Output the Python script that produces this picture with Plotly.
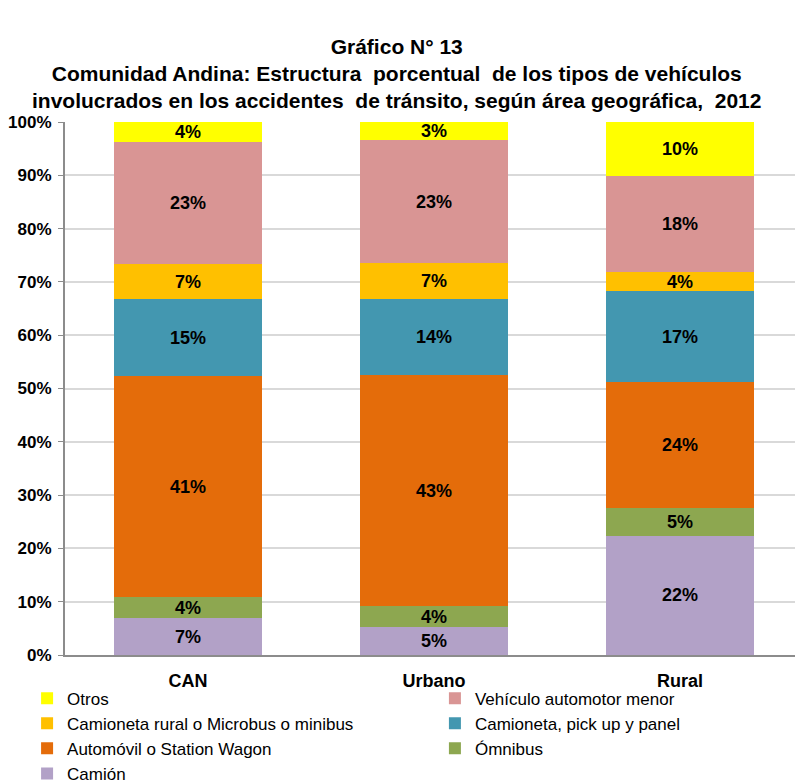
import plotly.graph_objects as go

categories = ["CAN", "Urbano", "Rural"]
series_names = [
    "Camión",
    "Ómnibus",
    "Automóvil o Station Wagon",
    "Camioneta, pick up y panel",
    "Camioneta rural o Microbus o minibus",
    "Vehículo automotor menor",
    "Otros",
]
camion = [6.9, 5.2, 22.4]
omnibus = [4.0, 4.0, 5.1]
automovil = [41.4, 43.3, 23.8]
pickup = [14.5, 14.2, 16.9]
camioneta_rural = [6.5, 6.8, 3.7]
menor = [22.9, 23.1, 17.9]
otros = [3.8, 3.4, 10.2]
colors = ["#B2A1C7", "#8DA750", "#E46C0A", "#4397B0", "#FFC000", "#D99594", "#FFFF00"]
legend_ids = ["legend", "legend2", "legend", "legend2", "legend", "legend2", "legend"]
y_ticks = [0, 10, 20, 30, 40, 50, 60, 70, 80, 90, 100]

values = [camion, omnibus, automovil, pickup, camioneta_rural, menor, otros]

fig = go.Figure()
for name, vals, col, lg in zip(series_names, values, colors, legend_ids):
    fig.add_trace(go.Bar(
        x=categories, y=vals, name=name, legend=lg,
        marker=dict(color=col, line=dict(width=0)),
        texttemplate="%{y:.0f}%", textposition="inside",
        insidetextanchor="middle", constraintext="none",
        textfont=dict(family="Liberation Sans", size=18, color="black", weight="bold"),
        hoverinfo="skip",
    ))

legend_font = dict(family="Liberation Sans", size=17, color="black")
common_legend = dict(
    orientation="h", traceorder="reversed",
    xref="container", yref="container",
    xanchor="left", yanchor="top",
    entrywidth=360, entrywidthmode="pixels",
    font=legend_font, itemwidth=30, tracegroupgap=0,
    bgcolor="rgba(0,0,0,0)",
)
fig.update_layout(
    barmode="stack",
    bargap=0.4,
    width=795, height=774,
    paper_bgcolor="white", plot_bgcolor="white",
    margin=dict(l=57, r=0, t=114, b=127),
    title=dict(
        text="<b>Gráfico N° 13</b><br><b>Comunidad Andina: Estructura  porcentual  de los tipos de vehículos</b><br><b>involucrados en los accidentes  de tránsito, según área geográfica,  2012</b>",
        x=0.489, xanchor="center", y=0.941, yanchor="top", yref="container",
        font=dict(family="Liberation Sans", size=21, color="black"),
    ),
    legend=dict(common_legend, x=0.024, y=0.131),
    legend2=dict(common_legend, x=0.537, y=0.131),
    showlegend=True,
)
fig.update_yaxes(
    range=[0, 100], tickvals=y_ticks, ticktext=[f"{v}%" for v in y_ticks],
    showgrid=True, gridcolor="#D9D9D9", gridwidth=1.5,
    showline=True, linecolor="#8C8C8C", linewidth=2,
    ticks="outside", ticklen=5, tickcolor="#8C8C8C",
    ticklabelstandoff=3, automargin=False,
    tickfont=dict(family="Liberation Sans", size=17, color="black", weight="bold"),
    zeroline=False,
)
fig.update_xaxes(
    showline=True, linecolor="#8C8C8C", linewidth=2,
    tickfont=dict(family="Liberation Sans", size=18, color="black", weight="bold"),
    ticks="", ticklabelstandoff=8, automargin=False,
)
fig.write_html("out.html")
